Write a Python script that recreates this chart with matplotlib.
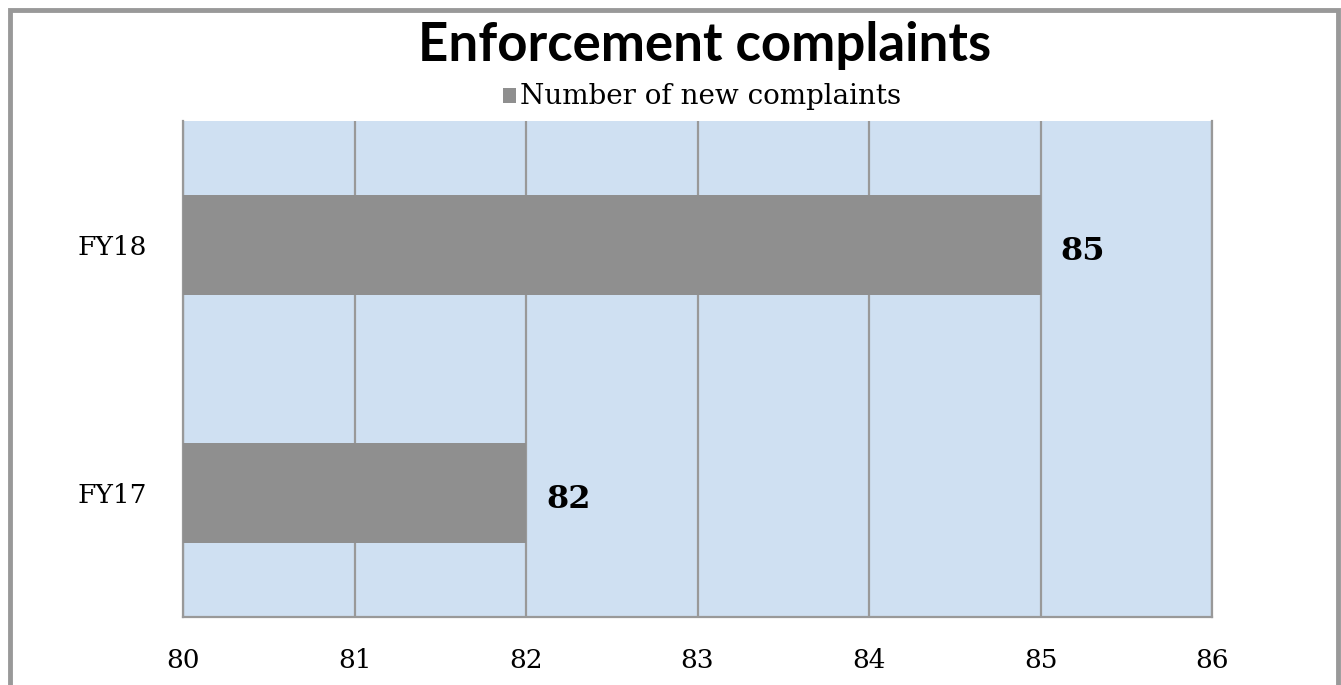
import matplotlib
matplotlib.use("Agg")
import matplotlib.pyplot as plt
from matplotlib.patches import Rectangle

categories = ["FY17", "FY18"]
values = [82, 85]
series_name = "Number of new complaints"
title = "Enforcement complaints"
x_ticks = [80, 81, 82, 83, 84, 85, 86]

W, H = 1341, 685
fig = plt.figure(figsize=(W / 100, H / 100), dpi=100)
fig.patch.set_facecolor("white")

# outer border
fig.add_artist(Rectangle((9.5 / W, -0.05), (1337.5 - 9.5) / W, (H - 9.5) / H + 0.05,
                         transform=fig.transFigure, fill=False,
                         edgecolor="#999999", linewidth=3.5))

ax = fig.add_axes([183 / W, 68 / H, (1212 - 183) / W, (617 - 121) / H])
ax.set_facecolor("#CFE0F2")
bar_color = "#8F8F8F"
y = list(range(len(categories)))
ax.barh(y, [v - x_ticks[0] for v in values], left=x_ticks[0], height=0.4,
        color=bar_color, zorder=3)
ax.set_xlim(x_ticks[0], x_ticks[-1])
ax.set_ylim(-0.5, len(categories) - 0.5)
ax.set_xticks(x_ticks)
ax.set_xticklabels([str(t) for t in x_ticks])
ax.set_yticks(y)
ax.set_yticklabels(categories)
ax.grid(axis="x", color="#999999", linewidth=1.6, zorder=1)
ax.tick_params(axis="both", length=0, labelsize=19, colors="black")
ax.tick_params(axis="x", pad=22)
ax.tick_params(axis="y", pad=26)
for lab in ax.get_xticklabels() + ax.get_yticklabels():
    lab.set_family("DejaVu Serif")
ax.spines["top"].set_visible(False)
for s in ["left", "bottom", "right"]:
    ax.spines[s].set_color("#999999")
    ax.spines[s].set_linewidth(1.6)

for yi, v in zip(y, values):
    ax.annotate(str(v), (v, yi), xytext=(20, -7), textcoords="offset pixels",
                ha="left", va="center", fontsize=23, fontweight="bold",
                family="DejaVu Serif", zorder=4)

fig.text(705 / W, 1 - 45 / H, title, ha="center", va="center",
         fontsize=38, fontweight="bold", family="Lato")
# legend
fig.add_artist(Rectangle((503 / W, 1 - 103 / H), 13 / W, 15 / H,
                         transform=fig.transFigure, facecolor=bar_color,
                         edgecolor="none"))
fig.text(520 / W, 1 - 96 / H, series_name, ha="left", va="center",
         fontsize=20, family="DejaVu Serif")

fig.savefig("out.png", dpi=100)
